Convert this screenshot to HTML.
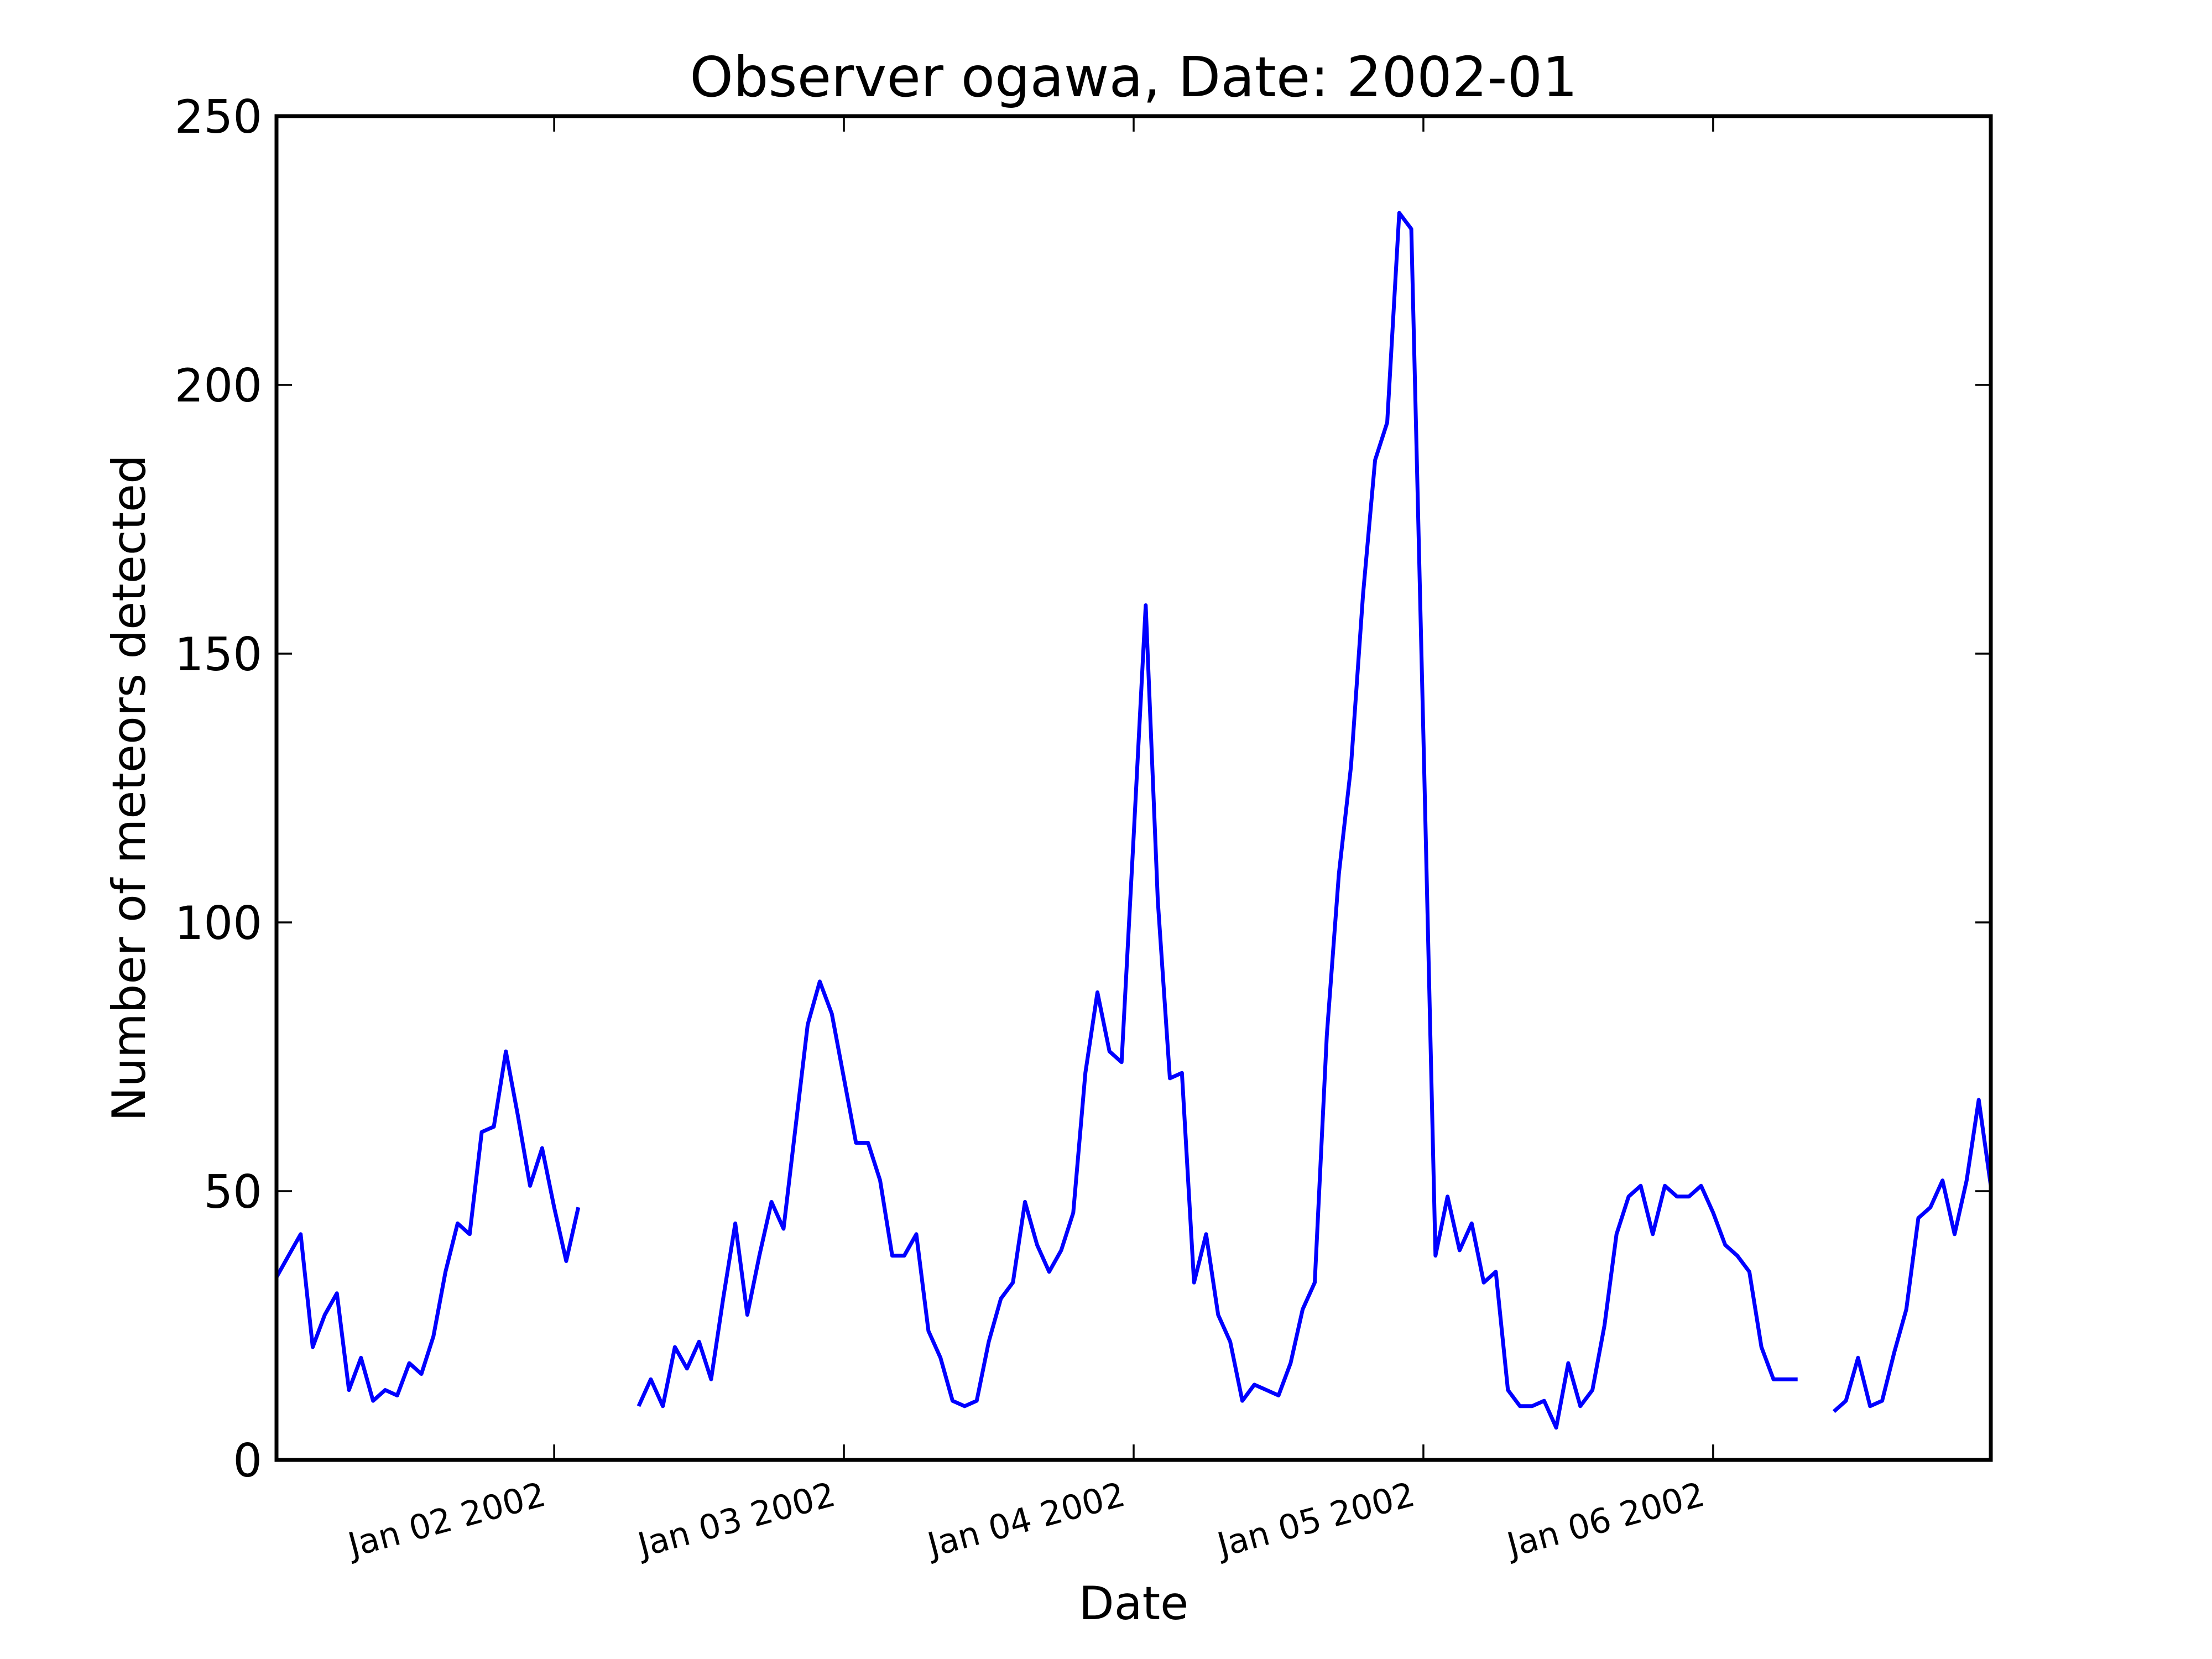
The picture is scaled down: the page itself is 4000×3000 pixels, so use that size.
<!DOCTYPE html>
<html><head><meta charset="utf-8"><style>
html,body{margin:0;padding:0;background:#fff;}
svg{display:block;}
text{font-family:"DejaVu Sans","Liberation Sans",sans-serif;fill:#000;}
</style></head><body>
<svg id="chart" width="4000" height="3000" viewBox="0 0 4000 3000" xmlns="http://www.w3.org/2000/svg">
<rect width="4000" height="3000" fill="#fff"/>
<defs><clipPath id="plotclip"><rect x="500" y="210" width="3100" height="2430"/></clipPath></defs>
<text x="2050" y="174" font-size="100" text-anchor="middle">Observer ogawa, Date: 2002-01</text>
<text x="2050" y="2928" font-size="83" text-anchor="middle">Date</text>
<text x="0" y="0" font-size="83" text-anchor="middle" transform="translate(262,1425) rotate(-90)">Number of meteors detected</text>
<g id="ticks"></g>
<g id="series" clip-path="url(#plotclip)"></g>
<rect x="500" y="210" width="3100" height="2430" fill="none" stroke="#000" stroke-width="7"/>
</svg>
<script>
// hours since 2002-01-01 00:00 for first sample
const startHour = 1;
// hourly meteor counts (null = no observation)
const counts = [
34,38,42,21,27,31,13,19,11,13,12,18,16,23,35,44,42,61,62,76,64,51,58,47,37,47,
null,null,null,null,
10,15,10,21,17,22,15,30,44,27,38,48,43,62,81,89,83,71,59,59,
52,38,38,42,24,19,11,10,11,22,30,33,48,40,35,39,46,72,87,76,
74,116,159,104,71,72,33,42,27,22,11,14,13,12,18,28,33,79,109,129,
161,186,193,232,229,135,38,49,39,44,33,35,13,10,10,11,6,18,10,13,
25,42,49,51,42,51,49,49,51,46,40,38,35,21,15,15,15,
null,null,
9,11,19,10,11,20,28,45,47,52,42,52,67,51
];
const xTickHours = [24,48,72,96,120];
const xTickLabels = ["Jan 02 2002","Jan 03 2002","Jan 04 2002","Jan 05 2002","Jan 06 2002"];
const yTicks = [0,50,100,150,200,250];

const NS = "http://www.w3.org/2000/svg";
const X0=500, X1=3600, Y0=2640, Y1=210;
const xMin=1, xMax=143, yMin=0, yMax=250;
function xs(h){return X0+(h-xMin)/(xMax-xMin)*(X1-X0);}
function ys(v){return Y0-(v-yMin)/(yMax-yMin)*(Y0-Y1);}
function mk(tag, attrs){const e=document.createElementNS(NS,tag);for(const k in attrs)e.setAttribute(k,attrs[k]);return e;}

const tg=document.getElementById('ticks');
yTicks.forEach(v=>{
  const y=ys(v);
  const l1=mk('line',{x1:X0,x2:X0+28,y1:y,y2:y,stroke:'#000','stroke-width':3.5});
  
  
  tg.appendChild(l1);
  const l2=mk('line',{x1:X1-28,x2:X1,y1:y,y2:y,stroke:'#000','stroke-width':3.5});
  
  
  tg.appendChild(l2);
  const t=mk('text',{x:X0-26,y:y+30,'font-size':83,'text-anchor':'end'});
  t.textContent=String(v);
  
  
  tg.appendChild(t);
});
xTickHours.forEach((h,i)=>{
  const x=xs(h);
  const l1=mk('line',{x1:x,x2:x,y1:Y0,y2:Y0-28,stroke:'#000','stroke-width':3.5});
  
  
  tg.appendChild(l1);
  const l2=mk('line',{x1:x,x2:x,y1:Y1,y2:Y1+28,stroke:'#000','stroke-width':3.5});
  
  
  tg.appendChild(l2);
  const px=x-12, py=2721;
  const t=mk('text',{x:px,y:py,'font-size':61,'text-anchor':'end',transform:'rotate(-15 '+px+' '+py+')'});
  t.textContent=xTickLabels[i];
  
  
  tg.appendChild(t);
});

const sg=document.getElementById('series');
let d='', pen=false;
counts.forEach((v,i)=>{
  if(v===null){pen=false;return;}
  const h=startHour+i;
  d+=(pen?'L':'M')+xs(h).toFixed(1)+' '+ys(v).toFixed(1)+' ';
  pen=true;
});
const path=mk('path',{d:d,fill:'none',stroke:'#0000ff','stroke-width':7,'stroke-linejoin':'round'});


sg.appendChild(path);
</script>
</body></html>
